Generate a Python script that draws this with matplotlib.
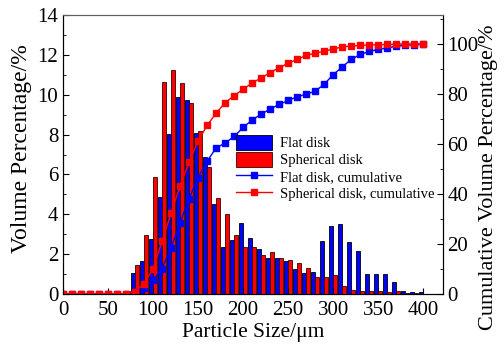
import matplotlib
matplotlib.use('Agg')
import matplotlib.pyplot as plt
import numpy as np

plt.rcParams['font.family'] = ['Liberation Serif', 'DejaVu Serif']

# particle size classes (um)
sizes = [0, 10, 20, 30, 40, 50, 60, 70, 80, 90, 100, 110, 120, 130, 140, 150,
         160, 170, 180, 190, 200, 210, 220, 230, 240, 250, 260, 270, 280, 290,
         300, 310, 320, 330, 340, 350, 360, 370, 380, 390, 400]

flat_vol = [0, 0, 0, 0, 0, 0, 0, 0, 1.04, 1.66, 2.78, 4.88, 8.01, 9.87, 9.75, 8.1,
            6.86, 4.52, 2.38, 2.71, 3.55, 2.83, 2.26, 1.82, 1.79, 1.66, 1.25, 1.04, 1.09, 2.66,
            3.41, 3.5, 2.62, 2.17, 1.0, 1.0, 1.0, 0.58, 0.17, 0.08, 0.08]

sph_vol = [0, 0, 0, 0, 0, 0, 0, 0.15, 1.45, 2.96, 5.85, 10.65, 11.24, 10.57, 9.57, 8.2,
           6.36, 4.83, 4.0, 2.96, 2.34, 2.34, 1.96, 2.12, 1.79, 1.69, 1.54, 1.32, 0.84, 0.84,
           0.94, 0.40, 0.20, 0.17, 0.15, 0.15, 0.08, 0.17, 0.05, 0.03, 0]

flat_cum = [0, 0, 0, 0, 0, 0, 0, 0, 1.0, 2.5, 5.5, 10.2, 18.5, 28.4, 38.2, 46.5,
            53.1, 58.4, 60.4, 63.0, 66.6, 69.6, 71.9, 74.0, 75.8, 77.4, 78.9, 79.9, 81.1, 83.9,
            87.7, 90.8, 93.8, 95.8, 97.0, 97.8, 98.4, 99.1, 99.5, 99.7, 99.8]

sph_cum = [0, 0, 0, 0, 0, 0, 0, 0.2, 1.0, 4.2, 10.2, 21.1, 32.4, 43.2, 52.8, 61.2,
           67.4, 72.3, 76.5, 79.3, 81.9, 84.4, 86.4, 88.5, 90.5, 92.3, 93.8, 95.4, 96.3, 97.1,
           98.0, 98.8, 99.2, 99.4, 99.6, 99.7, 99.8, 99.9, 100, 100, 100]

x = np.array(sizes)

fig = plt.figure(figsize=(5.04, 3.56), dpi=100)
ax = fig.add_axes([0.125, 0.174, 0.754, 0.784])

b1 = ax.bar(x - 2.6, flat_vol, width=4.4, color='#0000FF', edgecolor='black',
            linewidth=0.6, label='Flat disk')
b2 = ax.bar(x + 1.9, sph_vol, width=4.4, color='#FF0000', edgecolor='#3a0000',
            linewidth=0.6, label='Spherical disk')

ax.set_xlim(0, 422)
ax.set_ylim(0, 14)
ax.set_xticks(range(0, 401, 50))
ax.set_yticks(range(0, 15, 2))
ax.set_yticks(range(1, 14, 2), minor=True)
ax.tick_params(axis='y', which='major', direction='in', length=4, labelsize=15, right=False)
ax.tick_params(axis='y', which='minor', direction='in', length=2.5, right=False)
ax.tick_params(axis='x', which='major', direction='in', length=4, labelsize=15, top=False, pad=5)
ax.set_xlabel('Particle Size/μm', fontsize=15.5, labelpad=2)
ax.set_ylabel('Volume Percentage/%', fontsize=17)
ax.yaxis.set_label_coords(-0.082, 0.52)
ax.spines['top'].set_color('#606060')

ax2 = ax.twinx()
l1, = ax2.plot(x, flat_cum, color='#0000FF', marker='s', markersize=5,
               linewidth=1, label='Flat disk, cumulative')
l2, = ax2.plot(x, sph_cum, color='#FF0000', marker='s', markersize=5,
               linewidth=1, label='Spherical disk, cumulative')
ax2.set_ylim(0, 111.6)
ax2.set_yticks(range(0, 101, 20))
ax2.set_yticks(range(10, 111, 20), minor=True)
ax2.tick_params(axis='y', which='major', direction='in', length=4, labelsize=15, pad=3)
ax2.tick_params(axis='y', which='minor', direction='in', length=2.5)
ax2.set_ylabel('Cumulative Volume Percentage/%', fontsize=16)
ax2.yaxis.set_label_coords(1.094, 0.42)
ax2.spines['top'].set_color('#606060')

leg = ax2.legend(handles=[b1, b2, l1, l2], loc='upper left',
                 bbox_to_anchor=(0.455, 0.57), frameon=False, fontsize=10.5,
                 handlelength=2.5, handleheight=1.2, handletextpad=0.5,
                 labelspacing=0.1, borderpad=0, borderaxespad=0)

fig.savefig('out.png', dpi=100)
